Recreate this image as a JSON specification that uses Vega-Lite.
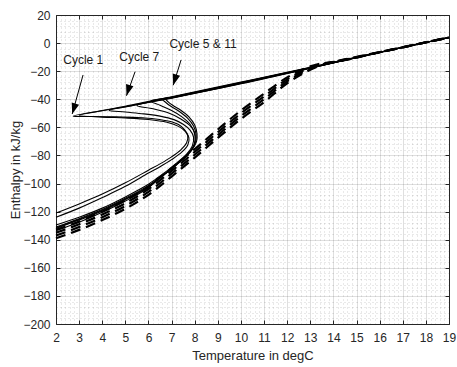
{
  "$schema": "https://vega.github.io/schema/vega-lite/v6.json",
  "width": 393,
  "height": 309,
  "autosize": "none",
  "padding": {"left": 56, "top": 15, "right": 8, "bottom": 43},
  "background": "white",
  "config": {"view": {"stroke": null}, "font": "Liberation Sans"},
  "datasets": {
    "solid": [
      {"s":"S1","i":1,"T":19,"H":4},{"s":"S1","i":2,"T":16,"H":-6.5},{"s":"S1","i":3,"T":13,"H":-17.3},{"s":"S1","i":4,"T":10,"H":-27.8},{"s":"S1","i":5,"T":7,"H":-38.2},{"s":"S1","i":6,"T":5,"H":-45},{"s":"S1","i":7,"T":4,"H":-48},{"s":"S1","i":8,"T":2.75,"H":-52},{"s":"S1","i":9,"T":3.5,"H":-52.3},{"s":"S1","i":10,"T":4.5,"H":-52.5},{"s":"S1","i":11,"T":5.5,"H":-53},{"s":"S1","i":12,"T":6.3,"H":-54},{"s":"S1","i":13,"T":6.9,"H":-55.7},{"s":"S1","i":14,"T":7.3,"H":-58},{"s":"S1","i":15,"T":7.55,"H":-61.5},{"s":"S1","i":16,"T":7.7,"H":-66},{"s":"S1","i":17,"T":7.65,"H":-71},{"s":"S1","i":18,"T":7.4,"H":-76},{"s":"S1","i":19,"T":7,"H":-81},{"s":"S1","i":20,"T":6.5,"H":-86},{"s":"S1","i":21,"T":6,"H":-90.5},{"s":"S1","i":22,"T":5,"H":-99.5},{"s":"S1","i":23,"T":4,"H":-107.5},{"s":"S1","i":24,"T":3,"H":-114.5},{"s":"S1","i":25,"T":2,"H":-121},
      {"s":"S2","i":1,"T":19,"H":4},{"s":"S2","i":2,"T":16,"H":-6.55},{"s":"S2","i":3,"T":13,"H":-17.5},{"s":"S2","i":4,"T":10,"H":-28.2},{"s":"S2","i":5,"T":7,"H":-38.6},{"s":"S2","i":6,"T":5,"H":-45.3},{"s":"S2","i":7,"T":4,"H":-48.2},{"s":"S2","i":8,"T":3,"H":-51.4},{"s":"S2","i":9,"T":4,"H":-52.7},{"s":"S2","i":10,"T":5,"H":-53.3},{"s":"S2","i":11,"T":6,"H":-54.4},{"s":"S2","i":12,"T":6.8,"H":-56.4},{"s":"S2","i":13,"T":7.3,"H":-59.3},{"s":"S2","i":14,"T":7.6,"H":-63},{"s":"S2","i":15,"T":7.75,"H":-67.5},{"s":"S2","i":16,"T":7.7,"H":-72.5},{"s":"S2","i":17,"T":7.45,"H":-77.5},{"s":"S2","i":18,"T":7,"H":-83},{"s":"S2","i":19,"T":6.5,"H":-88},{"s":"S2","i":20,"T":6,"H":-92.5},{"s":"S2","i":21,"T":5,"H":-102},{"s":"S2","i":22,"T":4,"H":-110},{"s":"S2","i":23,"T":3,"H":-117.5},{"s":"S2","i":24,"T":2,"H":-124},
      {"s":"S3","i":1,"T":19,"H":4},{"s":"S3","i":2,"T":16,"H":-6.6},{"s":"S3","i":3,"T":13,"H":-17.7},{"s":"S3","i":4,"T":10,"H":-28.6},{"s":"S3","i":5,"T":7,"H":-39},{"s":"S3","i":6,"T":5,"H":-45.5},{"s":"S3","i":7,"T":4.3,"H":-47.9},{"s":"S3","i":8,"T":5,"H":-49.1},{"s":"S3","i":9,"T":5.8,"H":-50.4},{"s":"S3","i":10,"T":6.5,"H":-52},{"s":"S3","i":11,"T":7.1,"H":-54.5},{"s":"S3","i":12,"T":7.5,"H":-57.8},{"s":"S3","i":13,"T":7.8,"H":-62},{"s":"S3","i":14,"T":7.95,"H":-67},{"s":"S3","i":15,"T":7.9,"H":-73},{"s":"S3","i":16,"T":7.65,"H":-79},{"s":"S3","i":17,"T":7.25,"H":-85},{"s":"S3","i":18,"T":6.8,"H":-91},{"s":"S3","i":19,"T":6.3,"H":-97},{"s":"S3","i":20,"T":6,"H":-100.5},{"s":"S3","i":21,"T":5,"H":-109.5},{"s":"S3","i":22,"T":4,"H":-117.5},{"s":"S3","i":23,"T":3,"H":-124},{"s":"S3","i":24,"T":2,"H":-129.5},
      {"s":"S4","i":1,"T":19,"H":4},{"s":"S4","i":2,"T":16,"H":-6.65},{"s":"S4","i":3,"T":13,"H":-17.8},{"s":"S4","i":4,"T":10,"H":-28.8},{"s":"S4","i":5,"T":7,"H":-39.2},{"s":"S4","i":6,"T":5.5,"H":-44.5},{"s":"S4","i":7,"T":6.2,"H":-46.8},{"s":"S4","i":8,"T":6.9,"H":-50},{"s":"S4","i":9,"T":7.4,"H":-54},{"s":"S4","i":10,"T":7.8,"H":-58.8},{"s":"S4","i":11,"T":8,"H":-64},{"s":"S4","i":12,"T":8.02,"H":-69.5},{"s":"S4","i":13,"T":7.95,"H":-74},{"s":"S4","i":14,"T":7.7,"H":-79.5},{"s":"S4","i":15,"T":7.3,"H":-85.5},{"s":"S4","i":16,"T":6.85,"H":-91.5},{"s":"S4","i":17,"T":6.35,"H":-97.5},{"s":"S4","i":18,"T":6,"H":-101.5},{"s":"S4","i":19,"T":5,"H":-110.5},{"s":"S4","i":20,"T":4,"H":-118.5},{"s":"S4","i":21,"T":3,"H":-125},{"s":"S4","i":22,"T":2,"H":-131},
      {"s":"S5","i":1,"T":19,"H":4},{"s":"S5","i":2,"T":16,"H":-6.7},{"s":"S5","i":3,"T":13,"H":-17.9},{"s":"S5","i":4,"T":10,"H":-29},{"s":"S5","i":5,"T":7,"H":-39},{"s":"S5","i":6,"T":6.75,"H":-39.8},{"s":"S5","i":7,"T":6.85,"H":-41.8},{"s":"S5","i":8,"T":7.05,"H":-44.3},{"s":"S5","i":9,"T":7.4,"H":-47.8},{"s":"S5","i":10,"T":7.75,"H":-52.5},{"s":"S5","i":11,"T":8,"H":-58.3},{"s":"S5","i":12,"T":8.1,"H":-64.5},{"s":"S5","i":13,"T":8.08,"H":-70},{"s":"S5","i":14,"T":7.85,"H":-76.5},{"s":"S5","i":15,"T":7.45,"H":-83},{"s":"S5","i":16,"T":7,"H":-89.5},{"s":"S5","i":17,"T":6.5,"H":-96},{"s":"S5","i":18,"T":6,"H":-102.5},{"s":"S5","i":19,"T":5,"H":-111.5},{"s":"S5","i":20,"T":4,"H":-119.5},{"s":"S5","i":21,"T":3,"H":-126},{"s":"S5","i":22,"T":2,"H":-132},
      {"s":"S6","i":1,"T":19,"H":4},{"s":"S6","i":2,"T":16,"H":-6.55},{"s":"S6","i":3,"T":13,"H":-17.6},{"s":"S6","i":4,"T":10,"H":-28.4},{"s":"S6","i":5,"T":7,"H":-38.7},{"s":"S6","i":6,"T":6.6,"H":-40},{"s":"S6","i":7,"T":6.75,"H":-42.3},{"s":"S6","i":8,"T":6.97,"H":-45},{"s":"S6","i":9,"T":7.32,"H":-48.5},{"s":"S6","i":10,"T":7.68,"H":-53.2},{"s":"S6","i":11,"T":7.95,"H":-59},{"s":"S6","i":12,"T":8.06,"H":-65},{"s":"S6","i":13,"T":8.04,"H":-70.5},{"s":"S6","i":14,"T":7.82,"H":-77},{"s":"S6","i":15,"T":7.42,"H":-83.5},{"s":"S6","i":16,"T":6.95,"H":-90},{"s":"S6","i":17,"T":6.45,"H":-96.5},{"s":"S6","i":18,"T":6,"H":-103},{"s":"S6","i":19,"T":5,"H":-112.5},{"s":"S6","i":20,"T":4,"H":-120.5},{"s":"S6","i":21,"T":3,"H":-127.5},{"s":"S6","i":22,"T":2,"H":-133.5},
      {"s":"S7","i":1,"T":19,"H":4},{"s":"S7","i":2,"T":16,"H":-6.5},{"s":"S7","i":3,"T":13,"H":-17.45},{"s":"S7","i":4,"T":10,"H":-28.1},{"s":"S7","i":5,"T":7,"H":-38.5},{"s":"S7","i":6,"T":6.1,"H":-41.3},{"s":"S7","i":7,"T":6.5,"H":-44.3},{"s":"S7","i":8,"T":7,"H":-48},{"s":"S7","i":9,"T":7.45,"H":-52.5},{"s":"S7","i":10,"T":7.8,"H":-57.8},{"s":"S7","i":11,"T":7.98,"H":-63.5},{"s":"S7","i":12,"T":8.02,"H":-69},{"s":"S7","i":13,"T":7.9,"H":-74.5},{"s":"S7","i":14,"T":7.6,"H":-80.5},{"s":"S7","i":15,"T":7.2,"H":-86.5},{"s":"S7","i":16,"T":6.75,"H":-92.5},{"s":"S7","i":17,"T":6.25,"H":-98.5},{"s":"S7","i":18,"T":6,"H":-102},{"s":"S7","i":19,"T":5,"H":-111},{"s":"S7","i":20,"T":4,"H":-119},{"s":"S7","i":21,"T":3,"H":-125.5},{"s":"S7","i":22,"T":2,"H":-131.5}
    ],
    "dashed": [
      {"s":"D1","T":2,"H":-133},{"s":"D1","T":3,"H":-127},{"s":"D1","T":4,"H":-120},{"s":"D1","T":5,"H":-112},{"s":"D1","T":6,"H":-102},{"s":"D1","T":7,"H":-89},{"s":"D1","T":8,"H":-75.5},{"s":"D1","T":9,"H":-61.5},{"s":"D1","T":10,"H":-48},{"s":"D1","T":11,"H":-36},{"s":"D1","T":12,"H":-24.4},{"s":"D1","T":13,"H":-16.6},{"s":"D1","T":13.5,"H":-14.4},{"s":"D1","T":14,"H":-13.5},{"s":"D1","T":16,"H":-6.5},{"s":"D1","T":19,"H":4},
      {"s":"D2","T":2,"H":-135},{"s":"D2","T":3,"H":-129},{"s":"D2","T":4,"H":-122},{"s":"D2","T":5,"H":-114},{"s":"D2","T":6,"H":-104},{"s":"D2","T":7,"H":-91},{"s":"D2","T":8,"H":-77.5},{"s":"D2","T":9,"H":-63.5},{"s":"D2","T":10,"H":-50},{"s":"D2","T":11,"H":-38},{"s":"D2","T":12,"H":-25.8},{"s":"D2","T":13,"H":-17.4},{"s":"D2","T":13.5,"H":-14.8},{"s":"D2","T":14,"H":-13.5},{"s":"D2","T":16,"H":-6.5},{"s":"D2","T":19,"H":4},
      {"s":"D3","T":2,"H":-137},{"s":"D3","T":3,"H":-131},{"s":"D3","T":4,"H":-124},{"s":"D3","T":5,"H":-116},{"s":"D3","T":6,"H":-106},{"s":"D3","T":7,"H":-93},{"s":"D3","T":8,"H":-79.5},{"s":"D3","T":9,"H":-65.5},{"s":"D3","T":10,"H":-52},{"s":"D3","T":11,"H":-40},{"s":"D3","T":12,"H":-27.2},{"s":"D3","T":13,"H":-18.2},{"s":"D3","T":13.5,"H":-15.2},{"s":"D3","T":14,"H":-13.5},{"s":"D3","T":16,"H":-6.5},{"s":"D3","T":19,"H":4},
      {"s":"D4","T":2,"H":-139},{"s":"D4","T":3,"H":-133},{"s":"D4","T":4,"H":-126},{"s":"D4","T":5,"H":-118},{"s":"D4","T":6,"H":-108},{"s":"D4","T":7,"H":-95},{"s":"D4","T":8,"H":-81.5},{"s":"D4","T":9,"H":-67.5},{"s":"D4","T":10,"H":-54},{"s":"D4","T":11,"H":-42},{"s":"D4","T":12,"H":-28.6},{"s":"D4","T":13,"H":-19},{"s":"D4","T":13.5,"H":-15.6},{"s":"D4","T":14,"H":-13.5},{"s":"D4","T":16,"H":-6.5},{"s":"D4","T":19,"H":4}
    ],
    "arrows": [
      {"label":"Cycle 1","T":3.17,"H":-22.7,"T2":2.7,"H2":-50.5},
      {"label":"Cycle 7","T":5.42,"H":-20.4,"T2":5.05,"H2":-37.5},
      {"label":"Cycle 5 & 11","T":7.41,"H":-12,"T2":7.07,"H2":-30}
    ],
    "labels": [
      {"label":"Cycle 1","T":3.18,"H":-12.2},
      {"label":"Cycle 7","T":5.6,"H":-9.9},
      {"label":"Cycle 5 & 11","T":8.36,"H":-0.7}
    ]
  },
  "resolve": {"axis": {"x": "independent", "y": "independent"}},
  "layer": [
    {
      "data": {"name": "solid"},
      "mark": {"type": "line", "color": "black", "strokeWidth": 1.1, "interpolate": "catmull-rom"},
      "encoding": {
        "x": {"field": "T", "type": "quantitative", "scale": {"domain": [2, 19], "nice": false, "zero": false},
          "axis": {"orient": "bottom", "title": null, "labels": false, "ticks": false, "domain": false, "grid": true,
            "gridColor": "#000000", "gridOpacity": 0.22, "gridDash": [1, 3], "gridWidth": 0.8,
            "values": [2.2,2.4,2.6,2.8,3.2,3.4,3.6,3.8,4.2,4.4,4.6,4.8,5.2,5.4,5.6,5.8,6.2,6.4,6.6,6.8,7.2,7.4,7.6,7.8,8.2,8.4,8.6,8.8,9.2,9.4,9.6,9.8,10.2,10.4,10.6,10.8,11.2,11.4,11.6,11.8,12.2,12.4,12.6,12.8,13.2,13.4,13.6,13.8,14.2,14.4,14.6,14.8,15.2,15.4,15.6,15.8,16.2,16.4,16.6,16.8,17.2,17.4,17.6,17.8,18.2,18.4,18.6,18.8]}},
        "y": {"field": "H", "type": "quantitative", "scale": {"domain": [-200, 20], "nice": false, "zero": false},
          "axis": {"orient": "left", "title": null, "labels": false, "ticks": false, "domain": false, "grid": true,
            "gridColor": "#000000", "gridOpacity": 0.22, "gridDash": [1, 3], "gridWidth": 0.8,
            "values": [-196,-192,-188,-184,-176,-172,-168,-164,-156,-152,-148,-144,-136,-132,-128,-124,-116,-112,-108,-104,-96,-92,-88,-84,-76,-72,-68,-64,-56,-52,-48,-44,-36,-32,-28,-24,-16,-12,-8,-4,4,8,12,16]}},
        "detail": {"field": "s", "type": "nominal"},
        "order": {"field": "i", "type": "quantitative"}
      }
    },
    {
      "data": {"name": "dashed"},
      "mark": {"type": "line", "color": "black", "strokeWidth": 2.2, "strokeDash": [10, 6], "interpolate": "monotone"},
      "encoding": {
        "x": {"field": "T", "type": "quantitative",
          "axis": {"orient": "bottom", "title": "Temperature in degC", "values": [2,3,4,5,6,7,8,9,10,11,12,13,14,15,16,17,18,19],
            "grid": true, "gridColor": "#262626", "gridOpacity": 0.15, "gridWidth": 1,
            "domain": true, "domainColor": "#262626", "domainWidth": 1,
            "ticks": true, "tickSize": -4, "tickColor": "#262626", "tickWidth": 1,
            "labelFont": "Liberation Sans", "labelFontSize": 12, "labelColor": "#262626", "labelPadding": 12,
            "labelFlush": false, "labelOverlap": false, "labelBound": false,
            "titleFont": "Liberation Sans", "titleFontSize": 13, "titleFontWeight": "normal", "titleColor": "#262626",
            "titleBaseline": "alphabetic", "titleY": 35.5}},
        "y": {"field": "H", "type": "quantitative",
          "axis": {"orient": "left", "title": "Enthalpy in kJ/kg", "values": [-200,-180,-160,-140,-120,-100,-80,-60,-40,-20,0,20],
            "grid": true, "gridColor": "#262626", "gridOpacity": 0.15, "gridWidth": 1,
            "domain": true, "domainColor": "#262626", "domainWidth": 1,
            "ticks": true, "tickSize": -4, "tickColor": "#262626", "tickWidth": 1,
            "labelFont": "Liberation Sans", "labelFontSize": 12, "labelColor": "#262626", "labelPadding": 10,
            "labelFlush": false, "labelOverlap": false, "labelBound": false,
            "titleFont": "Liberation Sans", "titleFontSize": 13, "titleFontWeight": "normal", "titleColor": "#262626",
            "titleBaseline": "alphabetic", "titleAngle": -90, "titleX": -37}},
        "detail": {"field": "s", "type": "nominal"}
      }
    },
    {
      "data": {"name": "arrows"},
      "mark": {"type": "rule", "color": "black", "strokeWidth": 1},
      "encoding": {
        "x": {"field": "T", "type": "quantitative",
          "axis": {"orient": "top", "title": null, "labels": false, "grid": false, "values": [2,3,4,5,6,7,8,9,10,11,12,13,14,15,16,17,18,19],
            "domain": true, "domainColor": "#262626", "domainWidth": 1, "ticks": true, "tickSize": -4, "tickColor": "#262626", "tickWidth": 1}},
        "y": {"field": "H", "type": "quantitative",
          "axis": {"orient": "right", "title": null, "labels": false, "grid": false, "values": [-200,-180,-160,-140,-120,-100,-80,-60,-40,-20,0,20],
            "domain": true, "domainColor": "#262626", "domainWidth": 1, "ticks": true, "tickSize": -4, "tickColor": "#262626", "tickWidth": 1}},
        "x2": {"field": "T2"},
        "y2": {"field": "H2"}
      }
    },
    {
      "data": {"name": "arrows"},
      "mark": {"type": "point", "shape": "M0,0L-0.7,-2L0.7,-2Z", "filled": true, "color": "black", "opacity": 1, "size": 121, "angle": 17},
      "encoding": {
        "x": {"field": "T2", "type": "quantitative", "axis": null},
        "y": {"field": "H2", "type": "quantitative", "axis": null}
      }
    },
    {
      "data": {"name": "labels"},
      "mark": {"type": "text", "font": "Liberation Sans", "fontSize": 12, "color": "#1a1a1a", "align": "center", "baseline": "middle"},
      "encoding": {
        "x": {"field": "T", "type": "quantitative", "axis": null},
        "y": {"field": "H", "type": "quantitative", "axis": null},
        "text": {"field": "label", "type": "nominal"}
      }
    }
  ]
}
